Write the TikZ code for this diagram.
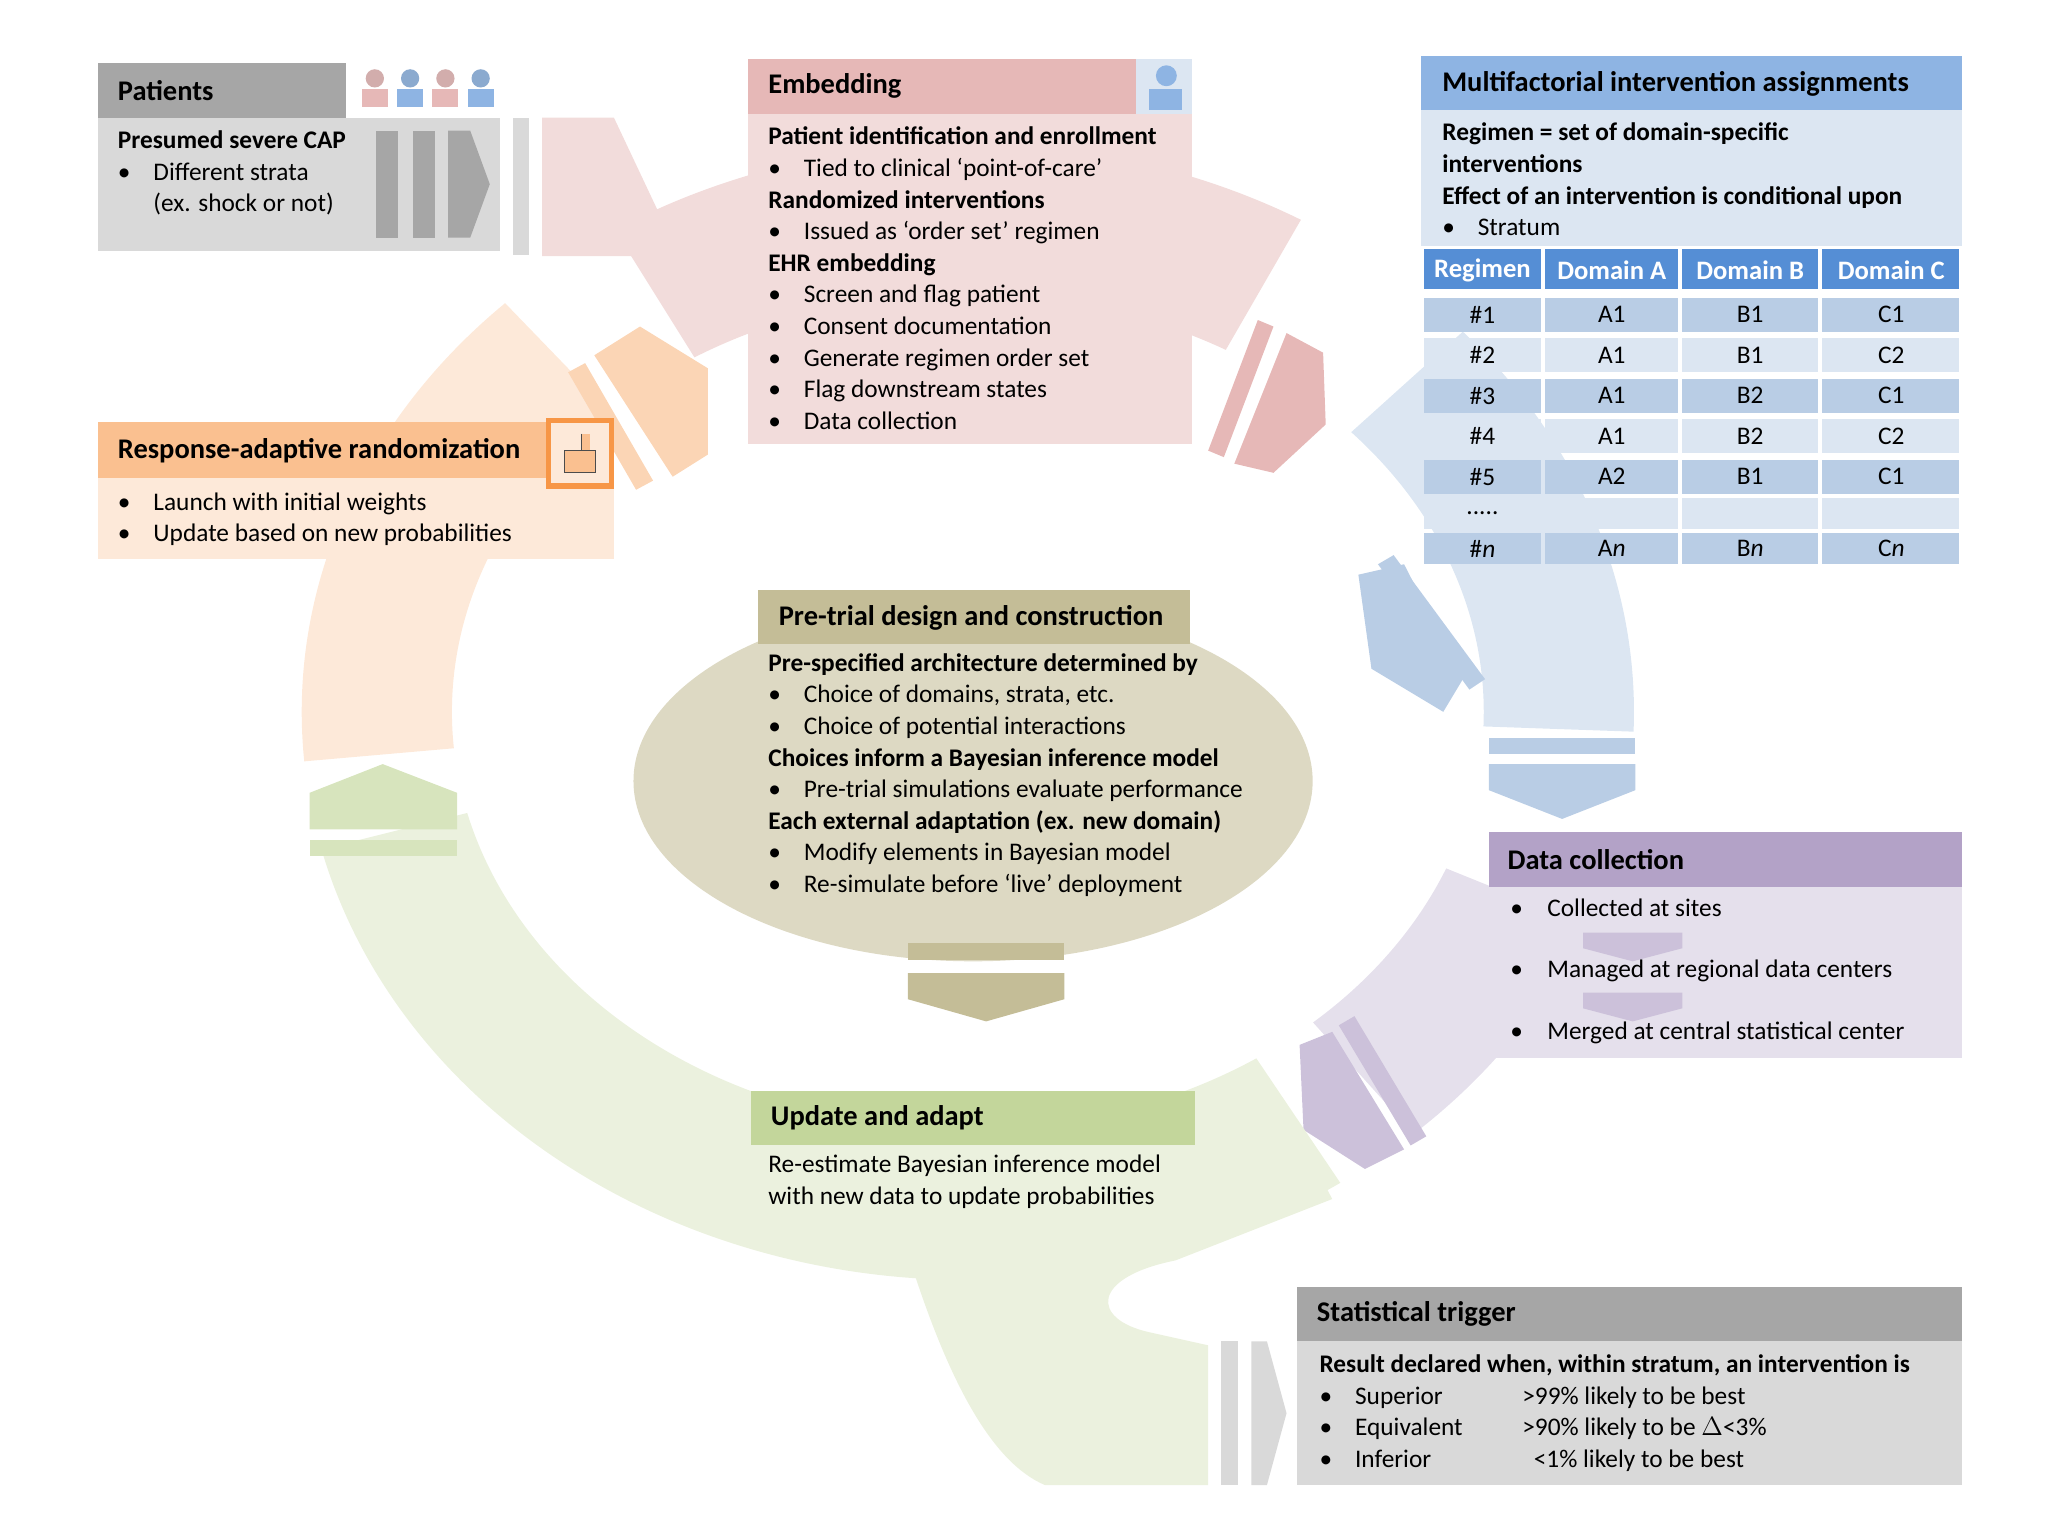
\documentclass[tikz,border=0pt]{standalone}
\usepackage{fontspec}
\setmainfont{Carlito}
\usetikzlibrary{calc}
\begin{document}
\begin{tikzpicture}[x=0.025cm,y=-0.025cm,
 hd/.style={anchor=west,inner sep=0,font=\fontsize{15.5}{18}\selectfont\bfseries},
 tx/.style={anchor=north west,inner sep=0,align=left,font=\fontsize{13.8}{17.2}\selectfont},
 cell/.style={inner sep=0,font=\fontsize{13.8}{16}\selectfont}]
\def\bul{\makebox[0.68cm][l]{\textbullet}}
\definecolor{pk1}{HTML}{F2DCDB}\definecolor{pk2}{HTML}{E6B8B7}
\definecolor{bl1}{HTML}{DCE6F2}\definecolor{bl2}{HTML}{B9CDE5}\definecolor{bl3}{HTML}{8EB4E3}\definecolor{bl4}{HTML}{558ED5}
\definecolor{pu1}{HTML}{E5E0EC}\definecolor{pu2}{HTML}{CCC1DA}\definecolor{pu3}{HTML}{B3A2C7}
\definecolor{gr1}{HTML}{EBF1DE}\definecolor{gr2}{HTML}{D7E4BD}\definecolor{gr3}{HTML}{C3D69B}
\definecolor{or1}{HTML}{FDE9D9}\definecolor{or2}{HTML}{FBD5B5}\definecolor{or3}{HTML}{FAC090}\definecolor{or4}{HTML}{F79646}
\definecolor{ol1}{HTML}{DDD9C3}\definecolor{ol2}{HTML}{C4BD97}
\definecolor{gy1}{HTML}{D9D9D9}\definecolor{gy2}{HTML}{A6A6A6}
\useasboundingbox (0,0) rectangle (1568,1176);
\coordinate (c) at (741,545);
\newcommand\sector[3]{\fill[#1] ($(c)+(#2:510 and 435)$) arc[start angle=#2,end angle=#3,x radius=510,y radius=435] -- ($(c)+(#3:395 and 320)$) arc[start angle=#3,end angle=#2,x radius=395,y radius=320] -- cycle;}
% ring
\sector{pk1}{-122}{-60}
\fill[pk1] (415,90) -- (470,90) -- (520,196) -- (415,196) -- cycle;
\fill[pk2] (925,345)--(963,245)--(975,250)--(937,350)--cycle;
\fill[pk2] (945,355)--(985,255)--(1013,270)--(1015,325)--(975,362)--cycle;
\sector{bl1}{-42}{2}
\fill[bl2] (1040,440)--(1075,432)--(1120,520)--(1105,545)--(1050,512)--cycle;
\fill[bl2] (1055,432)--(1067,425)--(1137,520)--(1125,528)--cycle;
\fill[bl2] (1140,565) rectangle (1252,577);
\fill[bl2] (1140,585)--(1252,585)--(1252,605)--(1196,627)--(1140,605)--cycle;
\sector{pu1}{22}{48}
\fill[pu2] (995,800)--(1020,790)--(1075,880)--(1045,895)--(998,865)--cycle;
\fill[pu2] (1025,785)--(1037,778)--(1092,870)--(1080,877)--cycle;
\sector{gr1}{56}{166}
\fill[gr1] (700,975) .. controls (728,1060) and (760,1120) .. (800,1137) -- (925,1137) -- (925,1030) -- (880,1020) .. controls (835,1010) and (835,978) .. (900,965) -- (1020,918) -- (1000,880) -- cycle;
\fill[gr2] (237,607)--(293,585)--(350,607)--(350,635)--(237,635)--cycle;
\fill[gr2] (237,643) rectangle (350,655);
\sector{or1}{175}{226}
\fill[or2] (435,285)--(448,278)--(500,368)--(487,375)--cycle;
\fill[or2] (455,272)--(490,250)--(542,282)--(542,348)--(515,365)--cycle;
% Patients
\fill[gy2] (75,48) rectangle (265,90);
\fill[gy1] (75,90) rectangle (383,192);
\fill[gy1] (393,90) rectangle (405,195);
\fill[gy2] (288,100) rectangle (305,182);
\fill[gy2] (316,100) rectangle (333,182);
\fill[gy2] (343,100)--(360,100)--(375,141)--(360,182)--(343,182)--cycle;
\node[hd] (ph) at (90,69) {Patients};
\foreach \i/\cc in {0/pk2,1/bl3,2/pk2,3/bl3}{\fill[\cc!80!gray] (287+\i*27,60) circle (7); \fill[\cc] (277+\i*27,68) rectangle (297+\i*27,82);}
\node[tx] (pb) at (90,100) {\textbf{Presumed severe CAP}\\\bul Different strata\\\hspace{0.68cm}(ex. shock or not)};
% Embedding
\fill[pk2] (573,45) rectangle (870,87);
\fill[bl1] (870,45) rectangle (913,87);
\fill[bl3] (893,58) circle (8); \fill[bl3] (880,68) rectangle (905,84);
\fill[pk1] (573,87) rectangle (913,340);
\node[hd] (eh) at (588,66) {Embedding};
\node[tx] (eb) at (588,97) {\textbf{Patient identification and enrollment}\\\bul Tied to clinical ‘point-of-care’\\\textbf{Randomized interventions}\\\bul Issued as ‘order set’ regimen\\\textbf{EHR embedding}\\\bul Screen and flag patient\\\bul Consent documentation\\\bul Generate regimen order set\\\bul Flag downstream states\\\bul Data collection};
% Multifactorial
\fill[bl3] (1088,43) rectangle (1502,84);
\fill[bl1] (1088,84) rectangle (1502,188);
\node[hd] (mh) at (1104,64) {Multifactorial intervention assignments};
\node[tx] (mb) at (1104,94) {\textbf{Regimen = set of domain-specific}\\\textbf{interventions}\\\textbf{Effect of an intervention is conditional upon}\\\bul Stratum};
\foreach \xa/\xb [count=\j] in {1090/1180,1183/1285,1288/1392,1395/1500}{
 \fill[bl4] (\xa,191) rectangle (\xb,221);
 \foreach \ya/\yb [count=\k] in {228/254,259/285,290/316,321/347,352/378,381/405,408/432}{
  \pgfmathparse{mod(\k,2)==1?"bl2":"bl1"}\edef\cc{\pgfmathresult}
  \fill[\cc] (\xa,\ya) rectangle (\xb,\yb);}}
\foreach \t [count=\j] in {Regimen,Domain A,Domain B,Domain C}{
 \pgfmathsetmacro\xx{{1135,1234,1340,1448}[\j-1]}
 \node[cell,text=white,font=\fontsize{14.5}{16}\selectfont\bfseries] (th\j) at (\xx,207) {\t};}
\foreach \a/\b/\cc/\d/\yy in {\#1/A1/B1/C1/241,\#2/A1/B1/C2/272,\#3/A1/B2/C1/303,\#4/A1/B2/C2/334,\#5/A2/B1/C1/365,\#\textit{n}/A\textit{n}/B\textit{n}/C\textit{n}/420}{
 \node[cell] at (1135,\yy) {\a}; \node[cell] at (1234,\yy) {\b}; \node[cell] at (1340,\yy) {\cc}; \node[cell] at (1448,\yy) {\d};}
\node[cell] (dots) at (1135,393) {.....};
% Response adaptive
\fill[or3] (75,323) rectangle (418,366);
\fill[or1] (75,366) rectangle (470,428);
\fill[or1] (420,322) rectangle (468,372);
\draw[or4,line width=3pt] (420,322) rectangle (468,372);
\fill[or3] (432,345) rectangle (456,362); \fill[or3] (445,332) rectangle (452,347);
\draw[black!70,line width=0.6pt] (432,345) rectangle (456,362) (445,332) -- (445,345);
\node[hd] (rh) at (90,345) {Response-adaptive randomization};
\node[tx] (rb) at (90,377) {\bul Launch with initial weights\\\bul Update based on new probabilities};
% Pre-trial
\fill[ol1] (745,598) ellipse [x radius=260,y radius=138];
\fill[ol2] (580,452) rectangle (911,493);
\node[hd] (th) at (596,473) {Pre-trial design and construction};
\node[tx] (tb) at (588,500) {\textbf{Pre-specified architecture determined by}\\\bul Choice of domains, strata, etc.\\\bul Choice of potential interactions\\\textbf{Choices inform a Bayesian inference model}\\\bul Pre-trial simulations evaluate performance\\\textbf{Each external adaptation (ex. new domain)}\\\bul Modify elements in Bayesian model\\\bul Re-simulate before ‘live’ deployment};
\fill[ol2] (695,722) rectangle (815,735);
\fill[ol2] (695,745)--(815,745)--(815,765)--(755,782)--(695,765)--cycle;
% Data collection
\fill[pu3] (1140,637) rectangle (1502,679);
\fill[pu1] (1140,679) rectangle (1502,810);
\fill[pu2] (1212,714)--(1288,714)--(1288,726)--(1250,736)--(1212,726)--cycle;
\fill[pu2] (1212,760)--(1288,760)--(1288,772)--(1250,782)--(1212,772)--cycle;
\node[hd] (dh) at (1154,658) {Data collection};
\node[tx] (d1) at (1156,688) {\bul\hspace{0.03cm}Collected at sites};
\node[tx] (d2) at (1156,735) {\bul\hspace{0.03cm}Managed at regional data centers};
\node[tx] (d3) at (1156,782) {\bul\hspace{0.03cm}Merged at central statistical center};
% Update
\fill[gr3] (575,835) rectangle (915,877);
\node[hd] (uh) at (590,856) {Update and adapt};
\node[tx] (ub) at (588,884) {Re-estimate Bayesian inference model\\with new data to update probabilities};
% Statistical trigger
\fill[gy2] (993,985) rectangle (1502,1027);
\fill[gy1] (993,1027) rectangle (1502,1137);
\fill[gy1] (935,1027) rectangle (948,1137);
\fill[gy1] (958,1027)--(970,1027)--(985,1082)--(970,1137)--(958,1137)--cycle;
\node[hd] (sh) at (1008,1006) {Statistical trigger};
\node[tx] (sb) at (1010,1037) {\textbf{Result declared when, within stratum, an intervention is}\\\bul\makebox[3.2cm][l]{Superior}>99\% likely to be best\\\bul\makebox[3.2cm][l]{Equivalent}>90\% likely to be $\Delta$<3\%\\\bul\makebox[3.2cm][l]{Inferior}\hspace{0.22cm}<1\% likely to be best};
\end{tikzpicture}
\end{document}
